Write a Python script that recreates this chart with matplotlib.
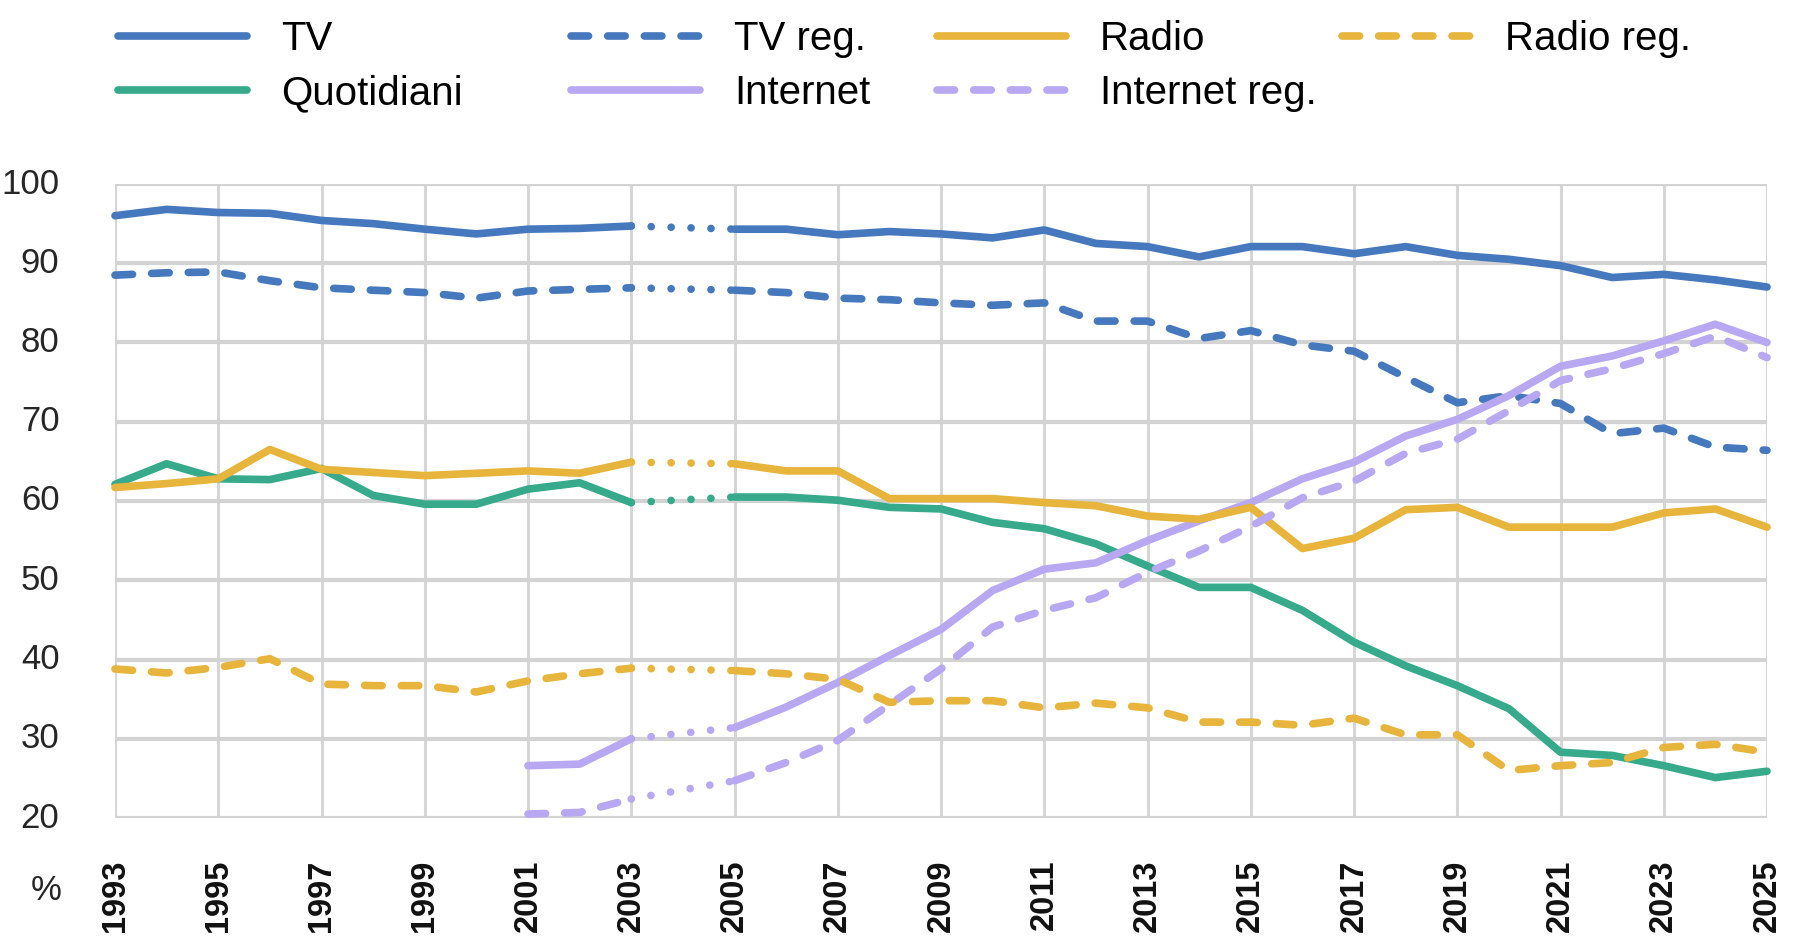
import matplotlib
matplotlib.use('Agg')
import matplotlib.pyplot as plt
from matplotlib.lines import Line2D
import numpy as np

plt.rcParams['font.family'] = ['Liberation Sans Narrow', 'Liberation Sans', 'DejaVu Sans']
plt.rcParams['font.stretch'] = 'condensed'

# anni 1993-2025 (2004 mancante)
anni = list(range(1993, 2026))

tv = [96.0, 96.8, 96.4, 96.3, 95.4, 95.0, 94.3, 93.7, 94.3, 94.4, 94.7, None,
      94.3, 94.3, 93.6, 94.0, 93.7, 93.2, 94.2, 92.5, 92.1, 90.8, 92.1, 92.1,
      91.2, 92.1, 91.0, 90.5, 89.7, 88.2, 88.6, 87.9, 87.0]
tv_reg = [88.5, 88.8, 88.9, 87.8, 86.9, 86.6, 86.3, 85.6, 86.5, 86.7, 86.9, None,
          86.6, 86.3, 85.6, 85.4, 85.0, 84.7, 85.0, 82.7, 82.7, 80.5, 81.5, 79.7,
          78.9, 75.6, 72.4, 73.3, 72.3, 68.5, 69.2, 66.8, 66.4]
radio = [61.7, 62.2, 62.8, 66.5, 64.0, 63.6, 63.2, 63.5, 63.8, 63.5, 64.9, None,
         64.7, 63.8, 63.8, 60.3, 60.3, 60.3, 59.8, 59.4, 58.1, 57.7, 59.2, 54.0,
         55.3, 58.9, 59.2, 56.7, 56.7, 56.7, 58.5, 59.0, 56.7]
radio_reg = [38.8, 38.3, 39.0, 40.1, 36.9, 36.7, 36.7, 35.9, 37.3, 38.2, 38.9, None,
             38.6, 38.2, 37.5, 34.6, 34.8, 34.8, 33.9, 34.5, 33.9, 32.1, 32.1, 31.7,
             32.6, 30.5, 30.5, 26.0, 26.6, 27.0, 28.9, 29.3, 28.3]
quotidiani = [62.1, 64.7, 62.8, 62.7, 64.1, 60.7, 59.6, 59.6, 61.5, 62.3, 59.8, None,
              60.5, 60.5, 60.1, 59.2, 59.0, 57.3, 56.5, 54.6, 51.8, 49.1, 49.1, 46.2,
              42.2, 39.2, 36.7, 33.8, 28.3, 27.9, 26.6, 25.1, 25.9]
internet = [None] * 8 + [26.6, 26.8, 30.0, None,
            31.4, 34.0, 37.1, 40.5, 43.8, 48.7, 51.4, 52.2, 55.0, 57.5, 59.8, 62.8,
            64.9, 68.2, 70.3, 73.3, 77.0, 78.3, 80.2, 82.3, 80.0]
internet_reg = [None] * 8 + [20.5, 20.7, 22.4, None,
                24.7, 27.0, 29.8, 34.3, 38.8, 44.1, 46.2, 47.8, 51.0, 53.7, 56.8, 60.4,
                62.5, 66.0, 67.8, 71.4, 75.2, 76.7, 78.6, 80.8, 78.1]

# colori
BLU = '#4678BE'
VERDE = '#36AA8B'
GIALLO = '#E7B43C'
LILLA = '#B8A7F1'

LW = 5.5
TRATTEGGIO = (2.3, 2.5)
PUNTINI = (0.01, 2.6)

serie = [
    ('TV', tv, BLU, False),
    ('Quotidiani', quotidiani, VERDE, False),
    ('TV reg.', tv_reg, BLU, True),
    ('Internet', internet, LILLA, False),
    ('Radio', radio, GIALLO, False),
    ('Internet reg.', internet_reg, LILLA, True),
    ('Radio reg.', radio_reg, GIALLO, True),
]

fig = plt.figure(figsize=(18.02, 9.38), dpi=100)
ax = fig.add_axes([115 / 1802, 1 - 818 / 938, (1767 - 115) / 1802, (818 - 184) / 938])

x = np.array(anni)
i03 = anni.index(2003)
i05 = anni.index(2005)

handles = {}
for nome, valori, colore, tratt in serie:
    y = np.array([np.nan if v is None else v for v in valori])
    if tratt:
        ax.plot(x, y, color=colore, lw=LW, dashes=TRATTEGGIO,
                dash_capstyle='round', clip_on=False, zorder=3)
    else:
        ax.plot(x, y, color=colore, lw=LW, solid_capstyle='round',
                solid_joinstyle='round', clip_on=False, zorder=3)
    # tratto puntinato tra 2003 e 2005
    ax.plot([x[i03], x[i05]], [y[i03], y[i05]], color=colore, lw=LW,
            dashes=PUNTINI, dash_capstyle='round', clip_on=False, zorder=3)
    handles[nome] = Line2D([], [], color=colore, lw=LW,
                           dashes=TRATTEGGIO if tratt else (None, None),
                           dash_capstyle='round', solid_capstyle='round')

# assi e griglia
ax.set_xlim(1993, 2025)
ax.set_ylim(20, 100)
ax.set_xticks(range(1993, 2026, 2))
ax.set_yticks(range(20, 101, 10))
ax.grid(True, axis='x', color='#d6d6d6', lw=2.2, zorder=0)
ax.grid(True, axis='y', color='#d3d3d3', lw=3, zorder=0)
for s in ax.spines.values():
    s.set_visible(False)
ax.tick_params(length=0)
ax.tick_params(axis='y', pad=40, labelsize=25, labelcolor='#262626')
ax.tick_params(axis='x', pad=30, labelsize=23.5, labelrotation=90, labelcolor='#111111')
for t in ax.get_xticklabels():
    t.set_fontweight('bold')
    t.set_va('top')
for t in ax.get_yticklabels():
    t.set_va('center')

fig.text(46 / 1802, 1 - 890 / 938, '%', fontsize=25, color='#262626',
         ha='center', va='center')

# legenda: quattro colonne posizionate a mano
colonne = [
    (118, ['TV', 'Quotidiani']),
    (571, ['TV reg.', 'Internet']),
    (937, ['Radio', 'Internet reg.']),
    (1342, ['Radio reg.']),
]
for xpos, nomi in colonne:
    leg = fig.legend([handles[n] for n in nomi], nomi, loc='upper left',
                     bbox_to_anchor=(xpos / 1802, 1 - 20 / 938), frameon=False,
                     fontsize=29, handlelength=3.2, handletextpad=0.85,
                     borderpad=0, borderaxespad=0, labelspacing=0.4)

fig.savefig('out.png', dpi=100, facecolor='white')
